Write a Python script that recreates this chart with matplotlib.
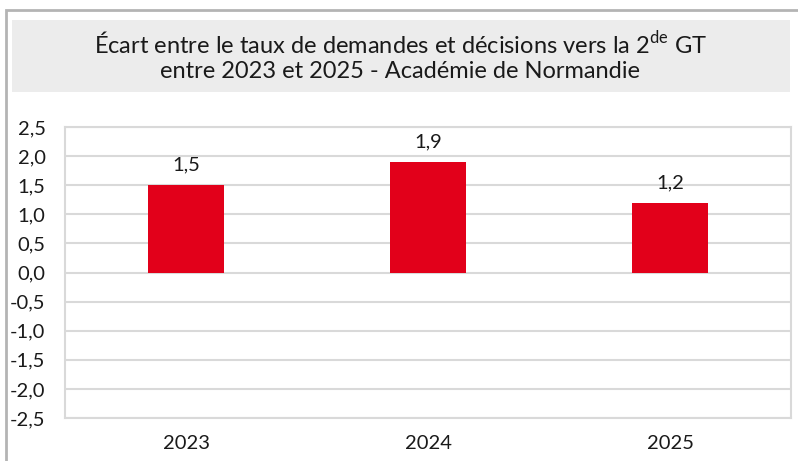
import matplotlib.pyplot as plt
from matplotlib.patches import Rectangle

plt.rcParams['font.family'] = ['Lato', 'DejaVu Sans']
plt.rcParams['mathtext.fontset'] = 'custom'
plt.rcParams['mathtext.rm'] = 'Lato'

years = ['2023', '2024', '2025']
ecart = [1.5, 1.9, 1.2]
yticks = [-2.5, -2.0, -1.5, -1.0, -0.5, 0.0, 0.5, 1.0, 1.5, 2.0, 2.5]

W, H = 798, 461
fig = plt.figure(figsize=(W / 100, H / 100), dpi=100)

# outer frame + grey title band
fig.patches.append(Rectangle((6 / W, -0.05), 1.0, (H - 10) / H + 0.05, transform=fig.transFigure,
                             fill=False, edgecolor='#b4b4b4', lw=2))
fig.patches.append(Rectangle((12 / W, 1 - 92 / H), (790 - 12) / W, 72 / H, transform=fig.transFigure,
                             facecolor='#ececec', edgecolor='none'))
fig.text(400 / W, 1 - 44 / H, r'Écart entre le taux de demandes et décisions vers la 2$^{\mathrm{de}}$ GT',
         ha='center', va='center', fontsize=17, color='#1a1a1a')
fig.text(400 / W, 1 - 72 / H, 'entre 2023 et 2025 - Académie de Normandie',
         ha='center', va='center', fontsize=17, color='#1a1a1a')

ax = fig.add_axes([65 / W, 1 - 418 / H, (791 - 65) / W, (418 - 127) / H])
x = range(len(years))
bars = ax.bar(x, ecart, width=0.314, color='#e2001a', zorder=3)
for b, v in zip(bars, ecart):
    ax.text(b.get_x() + b.get_width() / 2, v + 0.2, f'{v:.1f}'.replace('.', ','),
            ha='center', va='bottom', fontsize=14.5, color='#1a1a1a')

ax.set_xlim(-0.5, len(years) - 0.5)
ax.set_ylim(-2.5, 2.5)
ax.set_yticks(yticks)
ax.set_yticklabels([f'{t:.1f}'.replace('.', ',') for t in yticks])
ax.set_xticks(list(x))
ax.set_xticklabels(years)
ax.tick_params(axis='y', length=0, pad=14, labelsize=14.5, labelcolor='#1a1a1a')
ax.tick_params(axis='x', length=0, pad=12, labelsize=14.5, labelcolor='#1a1a1a')
ax.grid(axis='y', color='#d9d9d9', lw=1.5, zorder=0)
for s in ax.spines.values():
    s.set_color('#d9d9d9')
    s.set_linewidth(1.5)

fig.savefig('out.png', dpi=100)
